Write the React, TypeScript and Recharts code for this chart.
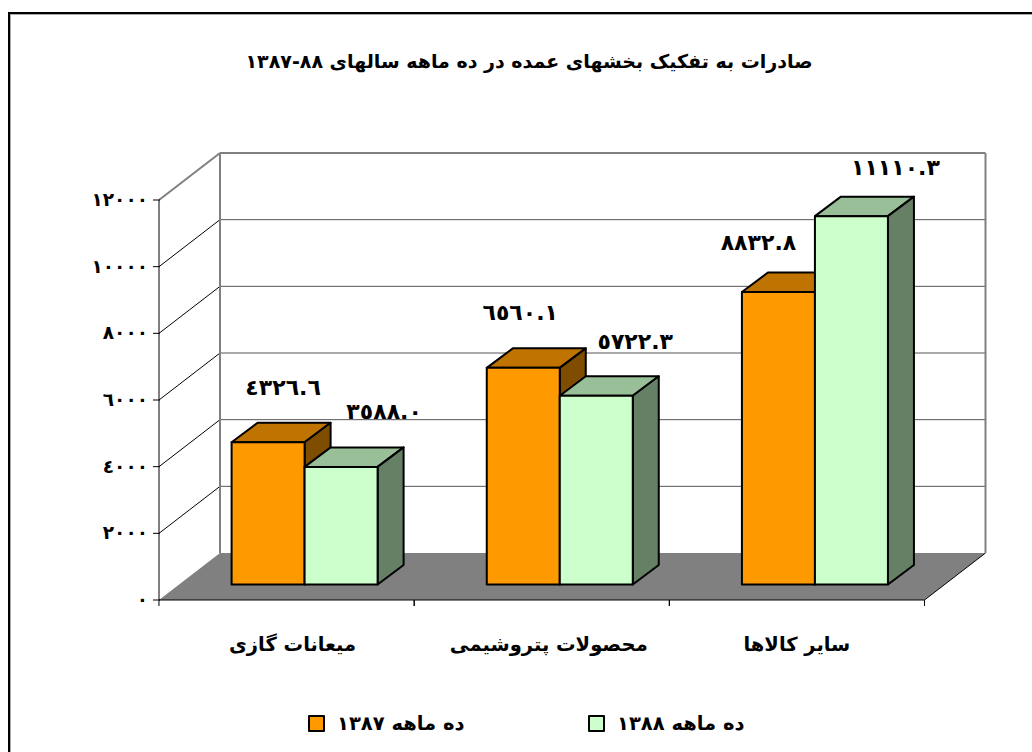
import React from "react";
import { Bar, BarChart, CartesianGrid, LabelList, Legend, XAxis, YAxis } from "recharts";

const categories = ["میعانات گازی", "محصولات پتروشیمی", "سایر کالاها"];
const series1387 = [4326.6, 6560.1, 8832.8];
const series1388 = [3588.0, 5722.3, 11110.3];
const yTicks = [0, 2000, 4000, 6000, 8000, 10000, 12000];

const TITLE = "صادرات به تفکیک بخشهای عمده در ده ماهه سالهای ۸۸-۱۳۸۷";
const NAME_1387 = "ده ماهه ۱۳۸۷";
const NAME_1388 = "ده ماهه ۱۳۸۸";

const data = categories.map((name, i) => ({
  name,
  a: series1387[i],
  b: series1388[i],
}));

const FONT = "'DejaVu Sans', sans-serif";
const WIDTH = 1032;
const HEIGHT = 752;
const PLOT_TOP = 200;
const PLOT_BOTTOM = 600;

// depth of the wall/floor and of the bars
const WALL_DX = 61;
const WALL_DY = -47;
const BAR_DX = 26;
const BAR_DY = -19.5;
// bars stand a bit behind the front edge of the floor
const SHIFT_X = 18;
const SHIFT_Y = -15.5;
const TOP_TRIM = 2;

// hand placed labels, same as the original chart
const nudge1387 = [
  { x: 15, y: -53 },
  { x: -3, y: -54 },
  { x: -20, y: -48 },
];
const nudge1388 = [
  { x: 43, y: -54 },
  { x: 39, y: -53 },
  { x: 44, y: -47 },
];
const nameNudge = [6, 7, 0];

const toArabic = (s: string) => s.replace(/[0-9]/g, (d) => "٠١٢٣٤٥٦٧٨٩"[Number(d)]);

function Bar3D(props: any) {
  const { x, y, width, height, fill, topFill, sideFill } = props;
  const l = x + SHIFT_X;
  const r = l + width;
  const t = y + SHIFT_Y + TOP_TRIM;
  const b = y + height + SHIFT_Y;
  const line = { stroke: "#000", strokeWidth: 2, strokeLinejoin: "round" as const };
  return (
    <g>
      <polygon
        points={`${l},${t} ${l + BAR_DX},${t + BAR_DY} ${r + BAR_DX},${t + BAR_DY} ${r},${t}`}
        fill={topFill}
        {...line}
      />
      <polygon
        points={`${r},${t} ${r + BAR_DX},${t + BAR_DY} ${r + BAR_DX},${b + BAR_DY} ${r},${b}`}
        fill={sideFill}
        {...line}
      />
      <rect x={l} y={t} width={width} height={b - t} fill={fill} {...line} />
    </g>
  );
}

function gridLine(props: any) {
  const { x1, x2, y1, key } = props;
  const bx1 = x1 + WALL_DX;
  const bx2 = x2 + WALL_DX;
  const by = y1 + WALL_DY;
  if (Math.abs(y1 - PLOT_BOTTOM) < 1) {
    return (
      <g key={key}>
        <polygon points={`${x1},${y1} ${bx1},${by} ${bx2},${by} ${x2},${y1}`} fill="#808080" />
        <line x1={x2} y1={y1} x2={bx2} y2={by} stroke="#000" />
      </g>
    );
  }
  if (Math.abs(y1 - PLOT_TOP) < 1) {
    return (
      <g key={key}>
        <line x1={x1} y1={y1} x2={bx1} y2={by} stroke="#808080" strokeWidth={2} />
        <line x1={bx1} y1={by} x2={bx2} y2={by} stroke="#808080" strokeWidth={2} />
        <line x1={bx1} y1={by} x2={bx1} y2={by + PLOT_BOTTOM - PLOT_TOP} stroke="#808080" strokeWidth={2} />
        <line x1={bx2} y1={by} x2={bx2} y2={by + PLOT_BOTTOM - PLOT_TOP} stroke="#808080" strokeWidth={2} />
      </g>
    );
  }
  return (
    <g key={key}>
      <line x1={x1} y1={y1} x2={bx1} y2={by} stroke="#000" />
      <line x1={bx1} y1={by} x2={bx2} y2={by} stroke="#555" />
    </g>
  );
}

function CategoryTick(props: any) {
  const { x, y, payload, index } = props;
  const half = 255.2 / 2;
  return (
    <g>
      <line x1={x - half} y1={y - 8} x2={x - half} y2={y - 2} stroke="#000" />
      <line x1={x + half} y1={y - 8} x2={x + half} y2={y - 2} stroke="#000" />
      <text
        x={x + nameNudge[index]}
        y={y + 43}
        textAnchor="middle"
        direction="rtl"
        fontFamily={FONT}
        fontWeight="bold"
        fontSize={19.5}
        fill="#000"
      >
        {payload.value}
      </text>
    </g>
  );
}

function ValueTick(props: any) {
  const { x, y, payload } = props;
  return (
    <g>
      <line x1={x + 2} y1={y} x2={x + 9} y2={y} stroke="#000" />
      <text x={x - 3} y={y + 6} textAnchor="end" fontFamily={FONT} fontWeight="bold" fontSize={18.5} fill="#000">
        {toArabic(String(payload.value))}
      </text>
    </g>
  );
}

const valueLabel = (nudges: { x: number; y: number }[]) => (props: any) => {
  const { x, y, width, value, index } = props;
  return (
    <text
      x={x + width / 2 + SHIFT_X + nudges[index].x}
      y={y + SHIFT_Y + nudges[index].y + 8}
      textAnchor="middle"
      fontFamily={FONT}
      fontWeight="bold"
      fontSize={22}
      fill="#000"
    >
      {toArabic(value.toFixed(1))}
    </text>
  );
};

function LegendBox(props: any) {
  return (
    <div style={{ display: "flex", fontFamily: FONT, fontWeight: "bold", fontSize: 19.5, color: "#000" }}>
      {props.payload.map((item: any) => (
        <div key={item.value} style={{ display: "flex", alignItems: "center", width: 280 }}>
          <span
            style={{
              width: 13,
              height: 13,
              background: item.color,
              border: "2px solid #000",
              borderRadius: 1,
              marginRight: 12,
            }}
          />
          <span dir="rtl">{item.value}</span>
        </div>
      ))}
    </div>
  );
}

export default function App() {
  return (
    <div style={{ position: "absolute", left: 0, top: 0, width: WIDTH, height: HEIGHT, overflow: "hidden", background: "#fff" }}>
      <div
        style={{
          position: "absolute",
          left: 8,
          top: 12,
          width: 1100,
          height: 800,
          borderLeft: "2px solid #000",
          borderTop: "2px solid #000",
          boxShadow: "inset 1px 1px 0 #aaa",
        }}
      />
      <div
        dir="rtl"
        style={{
          position: "absolute",
          left: 0,
          width: 1058,
          top: 50,
          textAlign: "center",
          fontFamily: FONT,
          fontWeight: "bold",
          fontSize: 19,
          color: "#000",
        }}
      >
        {TITLE}
      </div>
      <div style={{ position: "absolute", left: 0, top: 0 }}>
        <BarChart
          width={WIDTH}
          height={HEIGHT}
          data={data}
          margin={{ top: PLOT_TOP, right: 107.5, bottom: 92, left: 59 }}
          barCategoryGap={54.6}
          barGap={0}
        >
          <CartesianGrid horizontal={gridLine} vertical={false} />
          <XAxis dataKey="name" height={60} axisLine={{ stroke: "#000" }} tickLine={false} tick={CategoryTick} interval={0} />
          <YAxis
            domain={[0, 12000]}
            ticks={yTicks}
            width={100}
            axisLine={{ stroke: "#000" }}
            tickLine={false}
            tick={ValueTick}
            interval={0}
          />
          <Legend
            layout="horizontal"
            verticalAlign="middle"
            wrapperStyle={{ position: "absolute", left: 308, top: 712, width: 600 }}
            content={LegendBox}
          />
          <Bar
            dataKey="a"
            name={NAME_1387}
            fill="#FF9900"
            isAnimationActive={false}
            shape={(p: any) => <Bar3D {...p} fill="#FF9900" topFill="#BF7300" sideFill="#7F4D00" />}
          >
            <LabelList content={valueLabel(nudge1387)} />
          </Bar>
          <Bar
            dataKey="b"
            name={NAME_1388}
            fill="#CCFFCC"
            isAnimationActive={false}
            shape={(p: any) => <Bar3D {...p} fill="#CCFFCC" topFill="#99BF99" sideFill="#668066" />}
          >
            <LabelList content={valueLabel(nudge1388)} />
          </Bar>
        </BarChart>
      </div>
    </div>
  );
}
